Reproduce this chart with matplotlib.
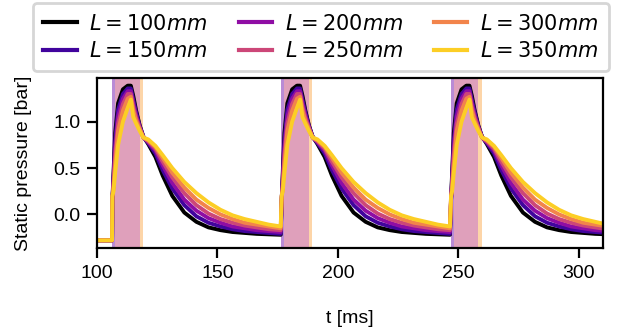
import numpy as np
import matplotlib
matplotlib.use("Agg")
import matplotlib.pyplot as plt

plt.rcParams['font.family'] = ['Liberation Sans', 'DejaVu Sans']

# ---- data ----
lengths = [100, 150, 200, 250, 300, 350]
labels = [f"$L={l}mm$" for l in lengths]

cycle_starts = [106.25, 176.5, 246.8]   # ms, valve opening
t_begin = 100.0
p_initial = -0.28                       # bar, before the first cycle

# time offsets (ms) from cycle start for the sampled points
offsets = [0.15, 0.6, 1.3, 2.5, 4.5, 6.5, 7.8, 8.8, 10.0, 11.5, 13.0, 15.0,
           18, 21, 25, 30, 35, 40, 45, 50, 55, 60, 65, 70]

p_100 = [0.15, 0.45, 0.88, 1.20, 1.35, 1.39, 1.39, 1.28, 1.12, 0.96, 0.84, 0.76,
         0.62, 0.42, 0.20, 0.02, -0.08, -0.14, -0.17, -0.19, -0.20, -0.21, -0.215, -0.22]
p_150 = [0.15, 0.40, 0.80, 1.13, 1.30, 1.36, 1.36, 1.24, 1.10, 0.95, 0.84, 0.77,
         0.66, 0.48, 0.28, 0.10, -0.02, -0.09, -0.13, -0.16, -0.18, -0.19, -0.20, -0.21]
p_200 = [0.17, 0.36, 0.72, 1.06, 1.25, 1.33, 1.33, 1.20, 1.07, 0.94, 0.83, 0.78,
         0.69, 0.53, 0.34, 0.16, 0.04, -0.04, -0.09, -0.13, -0.15, -0.17, -0.18, -0.19]
p_250 = [0.18, 0.32, 0.64, 0.98, 1.19, 1.30, 1.30, 1.16, 1.04, 0.93, 0.83, 0.79,
         0.71, 0.57, 0.40, 0.23, 0.10, 0.01, -0.05, -0.09, -0.12, -0.14, -0.16, -0.17]
p_300 = [0.19, 0.29, 0.55, 0.90, 1.12, 1.25, 1.27, 1.12, 1.01, 0.92, 0.83, 0.80,
         0.73, 0.61, 0.45, 0.29, 0.16, 0.07, 0.00, -0.05, -0.09, -0.11, -0.13, -0.15]
p_350 = [0.20, 0.25, 0.45, 0.75, 1.00, 1.15, 1.24, 1.05, 0.98, 0.90, 0.83, 0.81,
         0.74, 0.64, 0.50, 0.35, 0.23, 0.13, 0.05, -0.01, -0.05, -0.08, -0.11, -0.13]
pressures = [p_100, p_150, p_200, p_250, p_300, p_350]

# shaded injection window (offsets from cycle start, ms)
span_lead_end = 1.3
span_main_end = 11.5
span_tail_end = 12.9

colors = ['black'] + [plt.cm.plasma(v) for v in np.linspace(0.1, 0.9, 5)]

fig = plt.figure(figsize=(6.34, 3.33), dpi=100)
ax = fig.add_axes([0.153, 0.255, 0.798, 0.511])

for t0 in cycle_starts:
    ax.axvspan(t0, t0 + span_lead_end, color='#b98bd6', lw=0, zorder=0)
    ax.axvspan(t0 + span_lead_end, t0 + span_main_end, color='#dfa0bb', lw=0, zorder=0)
    ax.axvspan(t0 + span_main_end, t0 + span_tail_end, color='#fdd5a8', lw=0, zorder=0)

for p, c, lab in zip(pressures, colors, labels):
    t = [t_begin, cycle_starts[0]]
    v = [p_initial, p_initial]
    for t0 in cycle_starts:
        t += [t0 + o for o in offsets]
        v += list(p)
    ax.plot(t, v, color=c, lw=2.8, label=lab, zorder=2)

ax.set_xlim(100, 310)
ax.set_xticks([100, 150, 200, 250, 300])
ax.set_yticks([0.0, 0.5, 1.0])
ax.set_xlabel('t [ms]', fontsize=14, labelpad=20)
ax.set_ylabel('Static pressure [bar]', fontsize=14, labelpad=15)
ax.tick_params(labelsize=14, width=1.6, length=7, pad=5)
for s in ax.spines.values():
    s.set_linewidth(1.6)

leg = fig.legend(loc='upper center', bbox_to_anchor=(0.506, 0.99), ncol=3,
                 fontsize=15, frameon=True, handlelength=1.6, handletextpad=0.6,
                 columnspacing=1.5, borderpad=0.5, labelspacing=0.35,
                 borderaxespad=0.0)
leg.get_frame().set_edgecolor('#cccccc')
leg.get_frame().set_linewidth(2.0)
for h in leg.get_lines():
    h.set_linewidth(3.0)

fig.savefig('out.png', dpi=100)
